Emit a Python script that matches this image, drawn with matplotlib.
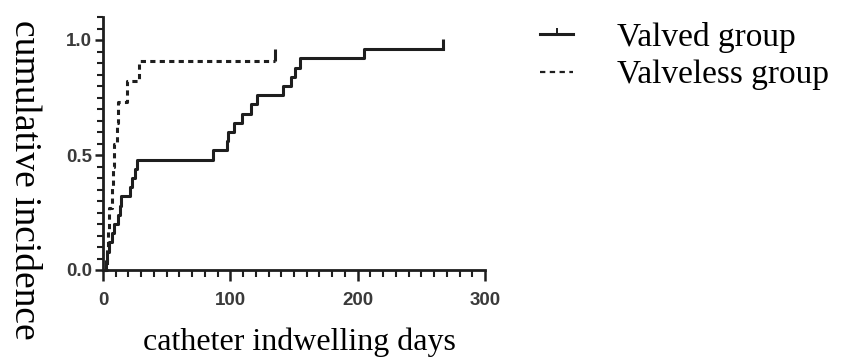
import numpy as np
import matplotlib
matplotlib.use("Agg")
import matplotlib.pyplot as plt
from matplotlib.lines import Line2D
from matplotlib.path import Path
from matplotlib.ticker import MultipleLocator

# cumulative incidence steps
valved_days = [2, 3, 5, 7, 9, 12, 13, 14, 21, 23, 25, 27, 86, 97, 98,
               103, 109, 116, 121, 141, 148, 151, 155, 205]
valved_inc = [0.04, 0.08, 0.12, 0.16, 0.20, 0.24, 0.28, 0.32, 0.36, 0.40,
              0.44, 0.48, 0.52, 0.56, 0.60, 0.64, 0.68, 0.72, 0.76, 0.80,
              0.84, 0.88, 0.92, 0.96]
valved_censor = 267

valveless_days = [3, 4, 5, 7, 8, 9, 11, 12, 19, 28]
valveless_inc = [0.09, 0.18, 0.27, 0.36, 0.45, 0.55, 0.64, 0.73, 0.82, 0.91]
valveless_censor = 135

labels = ["Valved group", "Valveless group"]
x_label = "catheter indwelling days"
y_label = "cumulative incidence"

line_color = "#1e1e1e"
tick_color = "#3a3a3a"
serif = ["Liberation Serif", "DejaVu Serif"]
up_tick = Path([(0, 0), (0, 1)])  # censor mark pointing up
lw = 2.2
dash = (0, (1.7, 1.4))

fig = plt.figure(figsize=(8.5, 3.61), dpi=100)
ax = fig.add_axes([103 / 850, 1 - 270 / 361, 382 / 850, 253 / 361])

# valved group (solid)
xs = np.r_[0, valved_days, valved_censor]
ys = np.r_[0, valved_inc, valved_inc[-1]]
ax.step(xs, ys, where="post", color=line_color, lw=lw, clip_on=False)
ax.plot([valved_censor], [valved_inc[-1]], marker=up_tick, ms=15,
        mew=lw, color=line_color, ls="none", clip_on=False)

# valveless group (dashed)
xs = np.r_[0, valveless_days, valveless_censor]
ys = np.r_[0, valveless_inc, valveless_inc[-1]]
ax.step(xs, ys, where="post", color=line_color, lw=lw, ls=dash,
        clip_on=False)
ax.plot([valveless_censor], [valveless_inc[-1]], marker=up_tick, ms=17,
        mew=lw, color=line_color, ls="none", clip_on=False)

ax.set_xlim(0, 300)
ax.set_ylim(0, 1.1)
ax.xaxis.set_major_locator(MultipleLocator(100))
ax.xaxis.set_minor_locator(MultipleLocator(10))
ax.set_yticks([0.0, 0.5, 1.0])
ax.yaxis.set_minor_locator(MultipleLocator(0.05))
ax.set_yticklabels(["0.0", "0.5", "1.0"])

for side in ["top", "right"]:
    ax.spines[side].set_visible(False)
for side in ["left", "bottom"]:
    ax.spines[side].set_linewidth(2.0)
    ax.spines[side].set_color(line_color)

ax.tick_params(axis="x", which="major", length=8, width=1.8, pad=8,
               color=line_color)
ax.tick_params(axis="x", which="minor", length=5, width=1.5, color=line_color)
ax.tick_params(axis="y", which="major", length=6, width=1.8, pad=2,
               color=line_color)
ax.tick_params(axis="y", which="minor", length=4, width=1.5, color=line_color)
for lab in ax.get_xticklabels() + ax.get_yticklabels():
    lab.set_fontfamily("Liberation Sans")
    lab.set_fontweight("bold")
    lab.set_fontsize(13.5)
    lab.set_color(tick_color)

fig.text(299 / 850, 1 - 342 / 361, x_label, family=serif, fontsize=23,
         ha="center", va="center", color="black")
fig.text(24 / 850, 1 - 180 / 361, y_label, family=serif, fontsize=27,
         rotation=270, ha="center", va="center", color="black")

handles = [
    Line2D([0], [0], color=line_color, lw=lw, marker=up_tick, ms=8,
           mew=1.4),
    Line2D([0], [0], color=line_color, lw=1.6, ls=(0, (2.4, 2.0))),
]
ax.legend(handles, labels, loc="upper left", frameon=False,
          bbox_to_anchor=(540 / 850, 1 - 22 / 361),
          bbox_transform=fig.transFigure, prop={"family": serif, "size": 24},
          handlelength=1.0, handletextpad=1.3, labelspacing=0.2,
          borderpad=0, borderaxespad=0)

fig.savefig("out.png", dpi=100)
